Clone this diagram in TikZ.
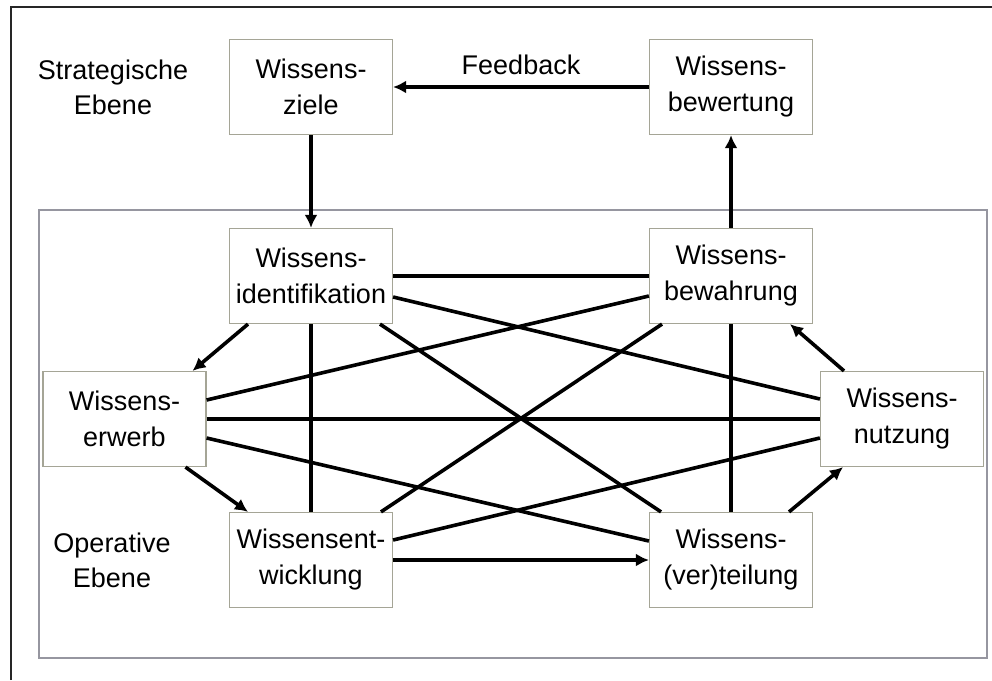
\documentclass[tikz,border=0pt]{standalone}
\usepackage{fontspec}
\setmainfont{Liberation Sans}
\usetikzlibrary{arrows.meta}
\definecolor{boxgray}{RGB}{165,165,150}
\definecolor{framegray}{RGB}{150,150,160}
\begin{document}
\begin{tikzpicture}[x=1pt,y=-1pt,
  wbox/.style={draw=boxgray, line width=1.2pt, fill=white, minimum width=163pt, minimum height=95pt, inner sep=0pt, align=center, font=\fontsize{27}{36}\selectfont},
  lbl/.style={align=center, inner sep=0pt, font=\fontsize{27}{35}\selectfont},
  conn/.style={line width=3.6pt, black},
  arr/.style={conn, -{Latex[length=13pt,width=13pt]}}]
\useasboundingbox (0,0) rectangle (992,680);
\fill[white] (0,0) rectangle (992,680);
% outer frame
\draw[line width=1.8pt, black!85] (11,680) -- (11,7) -- (992,7);
% inner frame (operative level)
\draw[framegray, line width=1.3pt] (39,210) rectangle (987,658);
% labels
\node[lbl] (strat) at (113,87) {Strategische\\Ebene};
\node[lbl] (oper) at (112,560) {Operative\\Ebene};
% boxes
\node[wbox] (ziel) at (311,87) {Wissens-\\ziele};
\node[wbox] (bewe) at (731,87) {Wissens-\\bewertung};
\node[wbox] (ident) at (311,276) {Wissens-\\identifikation};
\node[wbox] (bewa) at (731,276) {Wissens-\\bewahrung};
\node[wbox] (erw) at (124.5,419) {Wissens-\\erwerb};
\node[wbox] (nutz) at (902,419) {Wissens-\\nutzung};
\node[wbox] (entw) at (311,560) {Wissensent-\\wicklung};
\node[wbox] (vert) at (731,560) {Wissens-\\(ver)teilung};
% strategic level
\draw[arr] (ziel.south) -- (ident.north);
\draw[arr] (bewa.north) -- (bewe.south);
\draw[arr] (bewe.west) -- node[above=10pt, anchor=south, inner sep=0pt, font=\fontsize{27}{35}\selectfont] (fb) {Feedback} (ziel.east);
% operative connections
\draw[conn] (ident.east) -- (bewa.west);
\draw[conn] ([yshift=-21pt]ident.east) -- ([yshift=20pt]nutz.west);
\draw[conn] ([yshift=-20pt]bewa.west) -- ([yshift=19pt]erw.east);
\draw[conn] (erw.east) -- (nutz.west);
\draw[conn] ([yshift=-19pt]erw.east) -- ([yshift=19pt]vert.west);
\draw[conn] ([yshift=20pt]entw.east) -- ([yshift=-19pt]nutz.west);
\draw[arr] (entw.east) -- (vert.west);
\draw[conn] (ident.south) -- (entw.north);
\draw[conn] ([xshift=69pt]ident.south) -- ([xshift=-70pt]vert.north);
\draw[conn] ([xshift=-69pt]bewa.south) -- ([xshift=70pt]entw.north);
\draw[conn] (bewa.south) -- (vert.north);
\draw[arr] ([xshift=-63pt]ident.south) -- ([xshift=68pt]erw.north);
\draw[arr] ([xshift=61pt]erw.south) -- ([xshift=-63pt]entw.north);
\draw[arr] ([xshift=58pt]vert.north) -- ([xshift=-59pt]nutz.south);
\draw[arr] ([xshift=-58pt]nutz.north) -- ([xshift=59pt]bewa.south);
\end{tikzpicture}
\end{document}
